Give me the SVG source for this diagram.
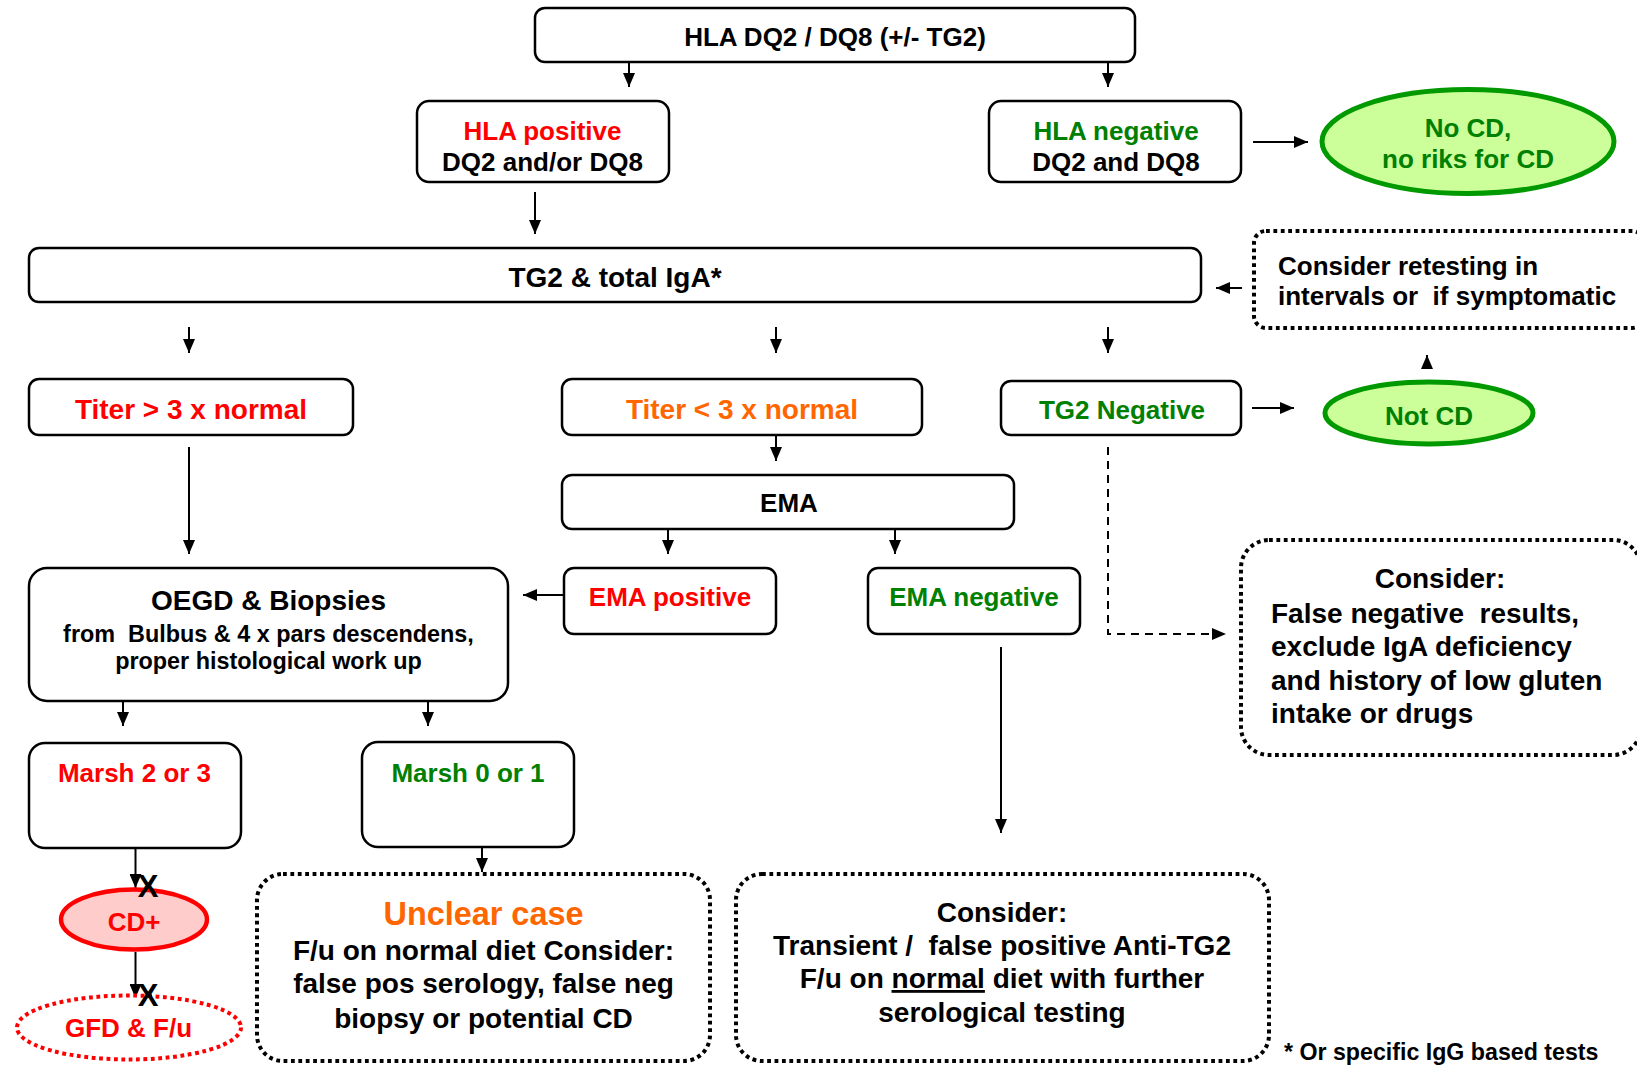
<svg xmlns="http://www.w3.org/2000/svg" width="1637" height="1069" viewBox="0 0 1637 1069">
<defs>
<style>
text{font-family:"Liberation Sans",Arial,sans-serif;font-weight:bold;fill:#000;white-space:pre}
.c{text-anchor:middle}
.box{fill:#fff;stroke:#000;stroke-width:2.5}
.dot{fill:#fff;stroke:#000;stroke-width:4;stroke-dasharray:3.8 3.6}
.conn{stroke:#000;stroke-width:2;fill:none}
.red{fill:#FF0000}
.grn{fill:#008000}
.org{fill:#FF6600}
.f26{font-size:26px}
.f28{font-size:28px}
.f23{font-size:23.4px}
.gell{fill:#CCFF99;stroke:#009900;stroke-width:5}
.xm{font-size:31px;text-anchor:middle}
</style>
<marker id="ah" markerUnits="userSpaceOnUse" markerWidth="14" markerHeight="12" refX="14" refY="6" orient="auto">
<path d="M0,0 L14,6 L0,12 z" fill="#000"/>
</marker>
</defs>
<rect width="1637" height="1069" fill="#fff"/>

<g id="connectors">
<line class="conn" x1="629" y1="62" x2="629" y2="87" marker-end="url(#ah)"/>
<line class="conn" x1="1108" y1="62" x2="1108" y2="87" marker-end="url(#ah)"/>
<line class="conn" x1="1253" y1="142" x2="1308" y2="142" marker-end="url(#ah)"/>
<line class="conn" x1="535" y1="192" x2="535" y2="234" marker-end="url(#ah)"/>
<line class="conn" x1="1242" y1="288" x2="1216" y2="288" marker-end="url(#ah)"/>
<line class="conn" x1="189" y1="327" x2="189" y2="353" marker-end="url(#ah)"/>
<line class="conn" x1="776" y1="327" x2="776" y2="353" marker-end="url(#ah)"/>
<line class="conn" x1="1108" y1="327" x2="1108" y2="353" marker-end="url(#ah)"/>
<line class="conn" x1="1252" y1="408" x2="1294" y2="408" marker-end="url(#ah)"/>
<line class="conn" x1="1427" y1="369" x2="1427" y2="355" marker-end="url(#ah)"/>
<line class="conn" x1="189" y1="447" x2="189" y2="554" marker-end="url(#ah)"/>
<line class="conn" x1="776" y1="435" x2="776" y2="461" marker-end="url(#ah)"/>
<line class="conn" x1="668" y1="529" x2="668" y2="554" marker-end="url(#ah)"/>
<line class="conn" x1="895" y1="529" x2="895" y2="554" marker-end="url(#ah)"/>
<line class="conn" x1="564" y1="595" x2="523" y2="595" marker-end="url(#ah)"/>
<path class="conn" d="M1108,447 L1108,634 L1226,634" stroke-dasharray="8 6" marker-end="url(#ah)"/>
<line class="conn" x1="1001" y1="647" x2="1001" y2="833" marker-end="url(#ah)"/>
<line class="conn" x1="123" y1="701" x2="123" y2="726" marker-end="url(#ah)"/>
<line class="conn" x1="428" y1="701" x2="428" y2="726" marker-end="url(#ah)"/>
<line class="conn" x1="482" y1="847" x2="482" y2="872" marker-end="url(#ah)"/>
<line class="conn" x1="135.5" y1="848" x2="135.5" y2="888" marker-end="url(#ah)"/>
<line class="conn" x1="135.5" y1="952" x2="135.5" y2="998" marker-end="url(#ah)"/>
</g>

<g id="hla-test">
<rect class="box" x="535" y="8" width="600" height="54" rx="10"/>
<text x="835" y="46" class="c f26">HLA DQ2 / DQ8 (+/- TG2)</text>
</g>

<g id="hla-positive">
<rect class="box" x="417" y="101" width="252" height="81" rx="12"/>
<text x="542.5" y="140" class="c f26 red">HLA positive</text>
<text x="542.5" y="171" class="c f26">DQ2 and/or DQ8</text>
</g>

<g id="hla-negative">
<rect class="box" x="989" y="101" width="252" height="81" rx="12"/>
<text x="1116" y="140" class="c f26 grn">HLA negative</text>
<text x="1116" y="171" class="c f26">DQ2 and DQ8</text>
</g>

<g id="no-cd">
<ellipse class="gell" cx="1468" cy="141.5" rx="146" ry="52"/>
<text x="1468" y="137" class="c f26 grn">No CD,</text>
<text x="1468" y="168" class="c f26 grn">no riks for CD</text>
</g>

<g id="tg2-iga">
<rect class="box" x="29" y="248" width="1172" height="54" rx="10"/>
<text x="615" y="287" class="c f28">TG2 &amp; total IgA*</text>
</g>

<g id="retesting">
<rect class="dot" x="1254" y="231" width="390" height="97" rx="12"/>
<text x="1278" y="275" class="f26">Consider retesting in</text>
<text x="1278" y="305" class="f26">intervals or  if symptomatic</text>
</g>

<g id="titer-high">
<rect class="box" x="29" y="379" width="324" height="56" rx="10"/>
<text x="191" y="419" class="c f28 red">Titer &gt; 3 x normal</text>
</g>

<g id="titer-low">
<rect class="box" x="562" y="379" width="360" height="56" rx="10"/>
<text x="742" y="419" class="c f28 org">Titer &lt; 3 x normal</text>
</g>

<g id="tg2-negative">
<rect class="box" x="1001" y="381" width="240" height="54" rx="10"/>
<text x="1122" y="419" class="c f26 grn">TG2 Negative</text>
</g>

<g id="not-cd">
<ellipse class="gell" cx="1429" cy="413" rx="104" ry="31"/>
<text x="1429" y="425" class="c f26 grn">Not CD</text>
</g>

<g id="ema">
<rect class="box" x="562" y="475" width="452" height="54" rx="10"/>
<text x="789" y="512" class="c f26">EMA</text>
</g>

<g id="ema-positive">
<rect class="box" x="564" y="568" width="212" height="66" rx="10"/>
<text x="670" y="606" class="c f26 red">EMA positive</text>
</g>

<g id="ema-negative">
<rect class="box" x="868" y="568" width="212" height="66" rx="10"/>
<text x="974" y="606" class="c f26 grn">EMA negative</text>
</g>

<g id="oegd">
<rect class="box" x="29" y="568" width="479" height="133" rx="18"/>
<text x="268.5" y="610" class="c f28">OEGD &amp; Biopsies</text>
<text x="268.5" y="642" class="c f23">from  Bulbus &amp; 4 x pars descendens,</text>
<text x="268.5" y="669" class="c f23">proper histological work up</text>
</g>

<g id="consider-false-negative">
<rect class="dot" x="1241" y="540" width="400" height="215" rx="28"/>
<text x="1440" y="588" class="c f28">Consider:</text>
<text x="1271" y="623" class="f28">False negative  results,</text>
<text x="1271" y="656" class="f28">exclude IgA deficiency</text>
<text x="1271" y="690" class="f28">and history of low gluten</text>
<text x="1271" y="723" class="f28">intake or drugs</text>
</g>

<g id="marsh-23">
<rect class="box" x="29" y="743" width="212" height="105" rx="16"/>
<text x="134.5" y="782" class="c f26 red">Marsh 2 or 3</text>
</g>

<g id="marsh-01">
<rect class="box" x="362" y="742" width="212" height="105" rx="16"/>
<text x="468" y="782" class="c f26 grn">Marsh 0 or 1</text>
</g>

<g id="cd-plus">
<ellipse cx="134" cy="919.5" rx="73" ry="30" fill="#FFCCCC" stroke="#FF0000" stroke-width="4.5"/>
<text x="134" y="931" class="c f26 red">CD+</text>
</g>

<g id="gfd">
<ellipse cx="129" cy="1027.5" rx="112" ry="32" fill="#fff" stroke="#FF0000" stroke-width="4" stroke-dasharray="3.8 3.6"/>
<text x="128.5" y="1037" class="c f26 red">GFD &amp; F/u</text>
</g>

<g id="unclear">
<rect class="dot" x="257" y="874" width="453" height="187" rx="26"/>
<text x="483.5" y="925" class="c org" style="font-size:32.4px">Unclear case</text>
<text x="483.5" y="960" class="c f28">F/u on normal diet Consider:</text>
<text x="483.5" y="993" class="c f28">false pos serology, false neg</text>
<text x="483.5" y="1028" class="c f28">biopsy or potential CD</text>
</g>

<g id="consider-transient">
<rect class="dot" x="736" y="874" width="533" height="187" rx="26"/>
<text x="1002" y="922" class="c f28">Consider:</text>
<text x="1002" y="955" class="c f28">Transient /  false positive Anti-TG2</text>
<text x="1002" y="988" class="c f28">F/u on <tspan text-decoration="underline">normal</tspan> diet with further</text>
<text x="1002" y="1022" class="c f28">serological testing</text>
</g>

<g id="footnote">
<text x="1284" y="1060" style="font-size:23.2px">* Or specific IgG based tests</text>
</g>

<g id="stop-marks">
<text x="148" y="897" class="xm">X</text>
<text x="148" y="1006" class="xm">X</text>
</g>
</svg>
